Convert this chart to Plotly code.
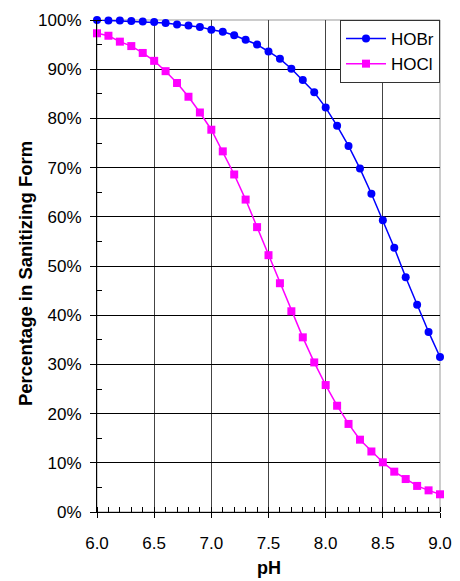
import plotly.graph_objects as go

ph = [6.0, 6.1, 6.2, 6.3, 6.4, 6.5, 6.6, 6.7, 6.8, 6.9, 7.0, 7.1, 7.2, 7.3, 7.4, 7.5,
      7.6, 7.7, 7.8, 7.9, 8.0, 8.1, 8.2, 8.3, 8.4, 8.5, 8.6, 8.7, 8.8, 8.9, 9.0]
hobr = [100.0, 99.9, 99.9, 99.8, 99.7, 99.6, 99.4, 99.1, 98.9, 98.6, 98.0, 97.6, 96.9, 96.0,
        95.0, 93.6, 92.1, 90.1, 87.8, 85.3, 82.2, 78.5, 74.4, 69.8, 64.7, 59.3, 53.7, 47.7,
        42.1, 36.6, 31.5]
hocl = [97.3, 96.8, 95.6, 94.7, 93.3, 91.7, 89.6, 87.2, 84.4, 81.2, 77.7, 73.3, 68.6, 63.5,
        57.9, 52.2, 46.5, 40.8, 35.5, 30.4, 25.8, 21.6, 17.9, 14.7, 12.3, 10.1, 8.2, 6.7,
        5.3, 4.4, 3.6]
x_title = "pH"
y_title = "Percentage in Sanitizing Form"

FONT = "Arial, Liberation Sans, sans-serif"

fig = go.Figure()
fig.add_trace(go.Scatter(x=ph, y=hobr, name="HOBr", mode="lines+markers",
                         line=dict(color="#0000FF", width=1.5),
                         marker=dict(symbol="circle", size=8, color="#0000FF"),
                         cliponaxis=False))
fig.add_trace(go.Scatter(x=ph, y=hocl, name="HOCl", mode="lines+markers",
                         line=dict(color="#FF00FF", width=1.5),
                         marker=dict(symbol="square", size=8, color="#FF00FF"),
                         cliponaxis=False))

fig.add_shape(type="rect", xref="paper", yref="paper", x0=0, x1=1, y0=0, y1=1,
              line=dict(color="#999999", width=1), layer="below")

fig.add_annotation(text="<b>" + x_title + "</b>", xref="paper", yref="paper",
                   x=0.5, y=0, xanchor="center", yanchor="middle", yshift=-56,
                   showarrow=False, font=dict(size=18))
fig.add_annotation(text="<b>" + y_title + "</b>", xref="paper", yref="paper",
                   x=0, y=0.4837, xanchor="center", yanchor="middle", xshift=-72,
                   textangle=-90, showarrow=False, font=dict(size=18.5))

fig.update_layout(
    width=460, height=581,
    margin=dict(l=97, r=20, t=20, b=69, autoexpand=False),
    plot_bgcolor="white", paper_bgcolor="white",
    font=dict(family=FONT, size=17, color="black"),
    showlegend=True,
    legend=dict(x=1, xanchor="right", y=1, yanchor="top",
                bgcolor="white", bordercolor="#333333", borderwidth=1,
                font=dict(size=17), itemwidth=40, tracegroupgap=0),
    xaxis=dict(range=[6, 9], dtick=0.5, tick0=6, tickformat=".1f",
               showgrid=True, gridcolor="#444444", gridwidth=1,
               showline=True, linecolor="black", linewidth=1,
               ticks="outside", ticklen=5, tickcolor="black", ticklabelstandoff=11,
               minor=dict(dtick=0.1, ticks="inside", ticklen=5, tickcolor="black", showgrid=False),
               zeroline=False, automargin=False),
    yaxis=dict(range=[0, 100], dtick=10, ticksuffix="%",
               showgrid=True, gridcolor="black", gridwidth=1,
               showline=True, linecolor="black", linewidth=1,
               ticks="outside", ticklen=6, tickcolor="black", ticklabelstandoff=5,
               minor=dict(dtick=5, ticks="inside", ticklen=5, tickcolor="black", showgrid=False),
               zeroline=False, automargin=False),
)

fig.write_html("out.html", config={"displayModeBar": False},
               post_script="document.body.style.margin='0';")
